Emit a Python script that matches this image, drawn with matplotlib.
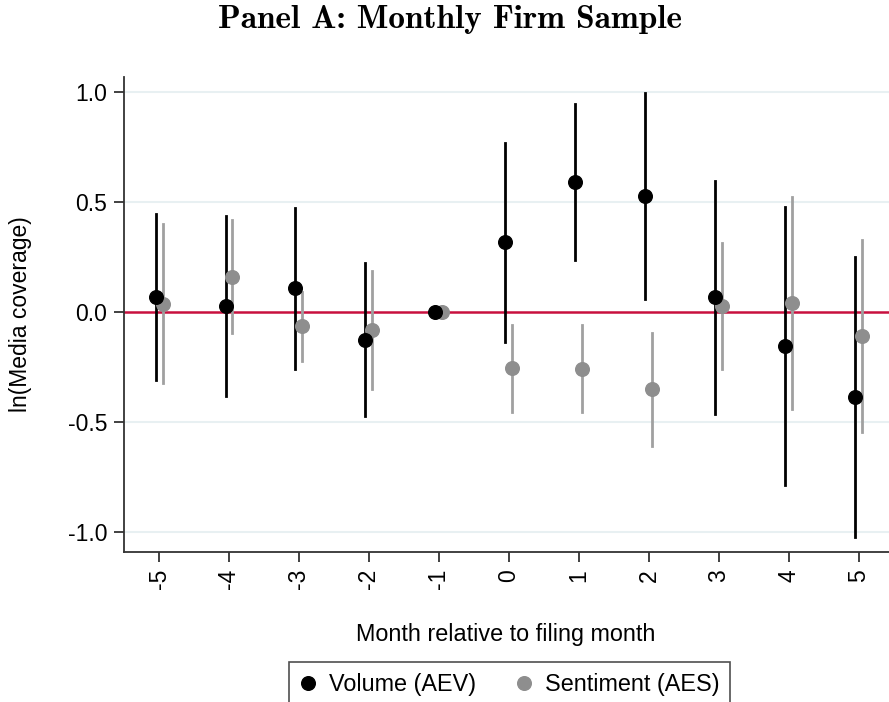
import os
import numpy as np
import matplotlib
import matplotlib.pyplot as plt
from matplotlib.lines import Line2D
from matplotlib.font_manager import FontProperties

plt.rcParams['font.family'] = ['Liberation Sans', 'DejaVu Sans']

# months relative to the filing month
months = [-5, -4, -3, -2, -1, 0, 1, 2, 3, 4, 5]

# Volume (AEV): point estimate and confidence bounds
vol = [0.067, 0.027, 0.107, -0.127, 0.0, 0.319, 0.591, 0.526, 0.067, -0.156, -0.387]
vol_hi = [0.443, 0.435, 0.473, 0.221, 0.0, 0.769, 0.946, 0.993, 0.596, 0.476, 0.248]
vol_lo = [-0.308, -0.380, -0.257, -0.472, 0.0, -0.135, 0.236, 0.057, -0.464, -0.785, -1.023]

# Sentiment (AES)
sent = [0.038, 0.160, -0.063, -0.080, 0.0, -0.256, -0.257, -0.351, 0.027, 0.039, -0.107]
sent_hi = [0.399, 0.417, 0.089, 0.187, 0.0, -0.059, -0.059, -0.094, 0.313, 0.521, 0.325]
sent_lo = [-0.324, -0.097, -0.221, -0.349, 0.0, -0.452, -0.455, -0.608, -0.259, -0.441, -0.544]

yticks = [-1.0, -0.5, 0.0, 0.5, 1.0]
ytick_labels = ["-1.0", "-0.5", "0.0", "0.5", "1.0"]

black = '#000000'
grey_pt = '#8e8e8e'
grey_ln = '#a0a0a0'

# Computer Modern bold shipped with matplotlib, for the panel title
cmb = FontProperties(fname=os.path.join(matplotlib.get_data_path(), 'fonts', 'ttf', 'cmb10.ttf'))

fig = plt.figure(figsize=(8.89, 7.02), dpi=100)
ax = fig.add_axes([0.1395, 0.2132, 0.8605, 0.6775])

x = np.array(months, dtype=float)
off = 0.05

# gridlines and zero reference line
for yv in yticks:
    if yv != 0:
        ax.axhline(yv, color='#e8f0f2', lw=1.5, zorder=0)
ax.axhline(0, color='#c8103e', lw=1.8, zorder=1)

# confidence intervals (skip the reference month)
for i in range(len(months)):
    if vol_hi[i] != vol_lo[i]:
        ax.plot([x[i] - off, x[i] - off], [vol_lo[i], vol_hi[i]], color=black, lw=2.0, zorder=2)
    if sent_hi[i] != sent_lo[i]:
        ax.plot([x[i] + off, x[i] + off], [sent_lo[i], sent_hi[i]], color=grey_ln, lw=2.0, zorder=2)

ax.plot(x - off, vol, 'o', color=black, ms=9.8, zorder=4, label='Volume (AEV)')
ax.plot(x + off, sent, 'o', color=grey_pt, ms=9.8, zorder=3, label='Sentiment (AES)')

ax.set_xlim(-5.5, 5.43)
ax.set_ylim(-1.091, 1.068)
ax.set_xticks(months)
ax.set_xticklabels([str(m) for m in months], rotation=90, fontsize=16.5)
ax.set_yticks(yticks)
ax.set_yticklabels(ytick_labels, fontsize=16.5)

for s in ['top', 'right']:
    ax.spines[s].set_visible(False)
for s in ['left', 'bottom']:
    ax.spines[s].set_color('#333333')
    ax.spines[s].set_linewidth(1.3)
ax.tick_params(axis='both', direction='out', length=7, width=1.3, color='#333333', pad=5)

ax.set_ylabel('ln(Media coverage)', fontsize=16.5, labelpad=26)
fig.text(0.5688, 1 - 634 / 702, 'Month relative to filing month', fontsize=16.8, ha='center', va='center')

fig.text(0.506, 1 - 20 / 702, 'Panel A: Monthly Firm Sample', fontproperties=cmb,
         fontsize=24, ha='center', va='center')

handles = [Line2D([], [], marker='o', ls='', color=black, ms=9.8),
           Line2D([], [], marker='o', ls='', color=grey_pt, ms=9.8)]
leg = fig.legend(handles, ['Volume (AEV)', 'Sentiment (AES)'], ncol=2,
                 loc='lower center', bbox_to_anchor=(0.573, -0.006), fontsize=16.8,
                 frameon=True, fancybox=False, edgecolor='#222222',
                 handletextpad=0.55, columnspacing=1.7, handlelength=0.7,
                 borderpad=0.45, borderaxespad=0)
leg.get_frame().set_linewidth(1.2)

fig.savefig('out.png', dpi=100)
